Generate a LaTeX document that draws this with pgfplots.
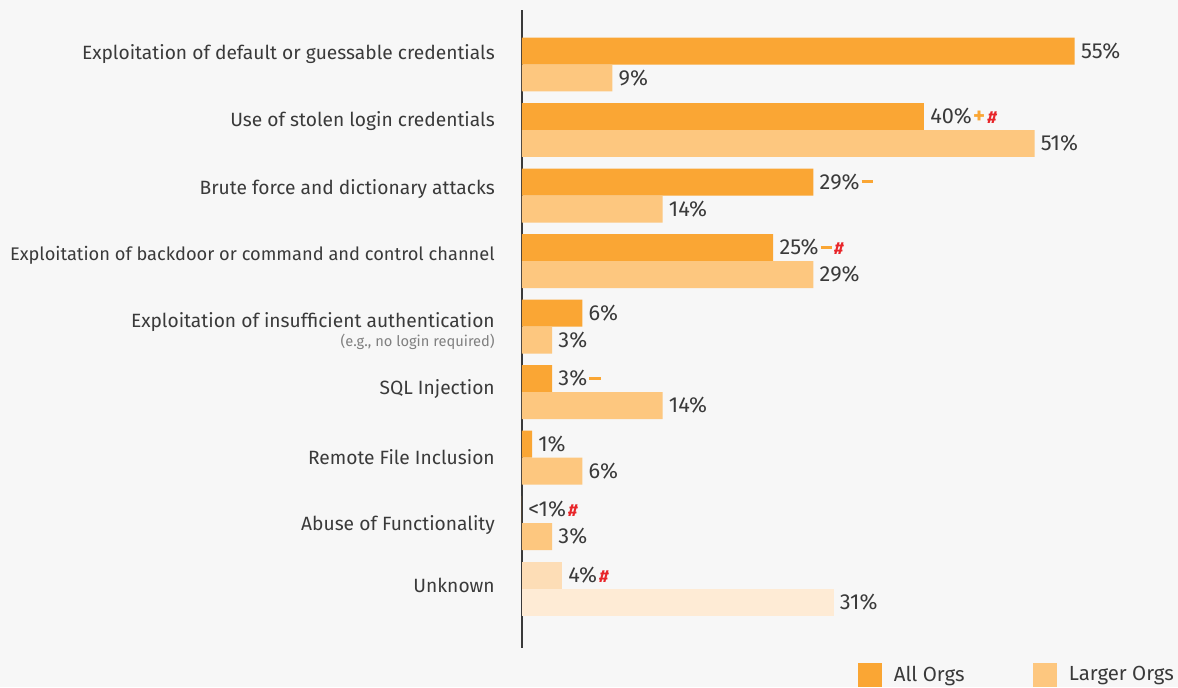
\documentclass[border=0pt]{standalone}
\usepackage{pgfplots}
\pgfplotsset{compat=1.18}
\usepackage{fontspec}
\setmainfont{Fira Sans}
\definecolor{bgc}{HTML}{F7F7F7}
\definecolor{allc}{HTML}{FAA634}
\definecolor{largec}{HTML}{FDC77F}
\definecolor{unkall}{HTML}{FDDDB6}
\definecolor{unklarge}{HTML}{FEEBD5}
\definecolor{textc}{HTML}{3A3A3A}
\definecolor{hashc}{HTML}{E8262A}
\NewDocumentCommand\pl{}{\kern1pt\textcolor{allc}{\fontsize{17}{17}\selectfont\bfseries +}}
\NewDocumentCommand\mi{}{\kern1.5pt\textcolor{allc}{\rule[4.5pt]{8.5pt}{2.4pt}}}
\NewDocumentCommand\hs{}{\kern1.5pt\textcolor{hashc}{\fontsize{13}{13}\selectfont\bfseries\itshape\#}}
\begin{document}
\begin{tikzpicture}
\fill[bgc] (0,0) rectangle (883.5pt,515.25pt);
\begin{axis}[
  xbar, scale only axis, width=452.25pt, height=478.5pt,
  at={(391.5pt,29.25pt)}, anchor=south west,
  xmin=0, xmax=60, ymin=-0.832, ymax=8.908, y dir=reverse,
  axis x line=none, axis y line*=left, xtick=\empty,
  axis line style={draw=textc, line width=0.8pt},
  ytick={-0.16,0.863,1.901,2.908,4.069,4.954,5.992,7.031,7.947},
  yticklabels={Exploitation of default or guessable credentials,
    Use of stolen login credentials,
    Brute force and dictionary attacks,
    {\fontsize{13.7}{16}\selectfont Exploitation of backdoor or command and control channel},
    {Exploitation of insufficient authentication\\[-2pt]{\fontsize{11}{11}\selectfont\color{gray}(e.g., no login required)}},
    SQL Injection, Remote File Inclusion, Abuse of Functionality, Unknown},
  yticklabel style={align=right, inner sep=0pt, xshift=-20.25pt, text=textc, font=\fontsize{14.4}{16}\selectfont},
  major tick length=0pt,
  bar width=0.412,
  nodes near coords, point meta=explicit symbolic,
  every node near coord/.append style={anchor=west, inner sep=4.5pt, text=textc, font=\fontsize{16.3}{18}\selectfont},
  clip=false,
  legend style={at={(axis description cs:0.5504,-0.065)}, anchor=south west, draw=none, fill=none,
    legend columns=2, font=\fontsize{15.3}{17}\selectfont, text=textc,
    /tikz/every even column/.append style={column sep=49.5pt}},
  legend image code/.code={\fill[#1] (0pt,-9pt) rectangle (18pt,9pt); \path (24.75pt,0pt);},
]
\addplot[fill=allc, draw=none, bar shift=-0.206] coordinates {
 (55,0) [55\%] (40,1) [40\%\pl\hs] (29,2) [29\%\mi] (25,3) [25\%\mi\hs]
 (6,4) [6\%] (3,5) [3\%\mi] (1,6) [1\%] (0,7) [{<}1\%\hs]};
\addlegendentry{All Orgs}
\addplot[fill=largec, draw=none, bar shift=0.206] coordinates {
 (9,0) [9\%] (51,1) [51\%] (14,2) [14\%] (29,3) [29\%]
 (3,4) [3\%] (14,5) [14\%] (6,6) [6\%] (3,7) [3\%]};
\addlegendentry{Larger Orgs}
\addplot[fill=unkall, draw=none, bar shift=-0.206, forget plot] coordinates {(4,8) [4\%\hs]};
\addplot[fill=unklarge, draw=none, bar shift=0.206, forget plot] coordinates {(31,8) [31\%]};
\end{axis}
\pgfresetboundingbox
\path[use as bounding box] (0,0) rectangle (883.5pt,515.25pt);
\end{tikzpicture}
\end{document}
